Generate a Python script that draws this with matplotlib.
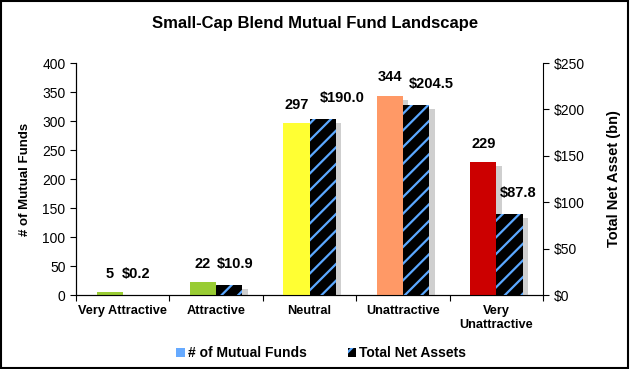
import numpy as np
import matplotlib
matplotlib.use("Agg")
from matplotlib import pyplot as plt
from matplotlib import patheffects as pe
from matplotlib.patches import Patch, Rectangle
from matplotlib.ticker import FuncFormatter, MultipleLocator

plt.rcParams['font.family'] = ['Liberation Sans', 'DejaVu Sans']
plt.rcParams['hatch.linewidth'] = 1.6

categories = ['Very Attractive', 'Attractive', 'Neutral', 'Unattractive', 'Very\nUnattractive']
fund_counts = [5, 22, 297, 344, 229]
net_assets = [0.2, 10.9, 190.0, 204.5, 87.8]
count_colors = ['#99CC33', '#99CC33', '#FFFF33', '#FF9966', '#CC0000']
hatch_blue = '#5BA8FF'
# horizontal nudge (points) of the asset labels, as in the original
asset_label_dx = [0, 4, 14, 11, 6]

fig = plt.figure(figsize=(6.3, 3.69), dpi=100)
ax = fig.add_axes([0.1206, 0.2005, 0.7414, 0.6285])
ax2 = ax.twinx()

x = np.arange(len(categories))
w = 0.28
shadow = [pe.SimplePatchShadow(offset=(4, -3), shadow_rgbFace='#888888', alpha=0.4), pe.Normal()]

ax.bar(x - w / 2, fund_counts, w, color=count_colors, linewidth=0, path_effects=shadow, zorder=3)
# plain bar underneath carries the shadow, hatched bar on top
ax2.bar(x + w / 2, net_assets, w, color='black', linewidth=0, path_effects=shadow, zorder=3)
ax2.bar(x + w / 2, net_assets, w, color='black', edgecolor=hatch_blue, hatch='//',
        linewidth=0, zorder=4)

# data labels
for xi, v in zip(x, fund_counts):
    ax.annotate(str(v), (xi - w / 2, v), xytext=(0, 8), textcoords='offset points',
                ha='center', va='bottom', fontsize=10.5, fontweight='bold')
for xi, v, dx in zip(x, net_assets, asset_label_dx):
    ax2.annotate(f'${v:.1f}', (xi + w / 2, v), xytext=(dx, 10), textcoords='offset points',
                 ha='center', va='bottom', fontsize=10.5, fontweight='bold')

ax.set_xlim(-0.5, 4.5)
ax.set_ylim(0, 400)
ax2.set_ylim(0, 250)
ax.yaxis.set_major_locator(MultipleLocator(50))
ax2.yaxis.set_major_locator(MultipleLocator(50))
ax2.yaxis.set_major_formatter(FuncFormatter(lambda v, p: f'${v:.0f}'))

ax.set_xticks(np.arange(-0.5, 5, 1))
ax.set_xticklabels([])
ax.set_xticks(x, minor=True)
ax.set_xticklabels(categories, minor=True, fontsize=9.2, fontweight='bold')
ax.tick_params(axis='x', which='minor', length=0, pad=7)
ax.tick_params(axis='x', which='major', length=4, direction='out')
ax.tick_params(axis='y', labelsize=10, length=4)
ax2.tick_params(axis='y', labelsize=10, length=4)

for a in (ax, ax2):
    a.spines['top'].set_visible(False)
ax.spines['right'].set_visible(False)

ax.set_ylabel('# of Mutual Funds', fontsize=9.5, fontweight='bold', labelpad=8)
ax2.set_ylabel('Total Net Asset (bn)', fontsize=10.5, fontweight='bold', labelpad=16)
fig.text(0.5, 0.935, 'Small-Cap Blend Mutual Fund Landscape', ha='center', va='center',
         fontsize=12, fontweight='bold')

handles = [Patch(facecolor='#66AAFF', edgecolor='none'),
           Patch(facecolor='black', edgecolor=hatch_blue, hatch='//', linewidth=0)]
fig.legend(handles, ['# of Mutual Funds', 'Total Net Assets'], loc='center', ncol=2,
           bbox_to_anchor=(0.51, 0.043), frameon=False, handlelength=0.6,
           handleheight=0.6, handletextpad=0.2, columnspacing=3,
           prop={'weight': 'bold', 'size': 10})

fig.add_artist(Rectangle((0.002, 0.003), 0.995, 0.994, transform=fig.transFigure,
                         fill=False, edgecolor='black', linewidth=1.5))

fig.savefig('out.png', dpi=100)
